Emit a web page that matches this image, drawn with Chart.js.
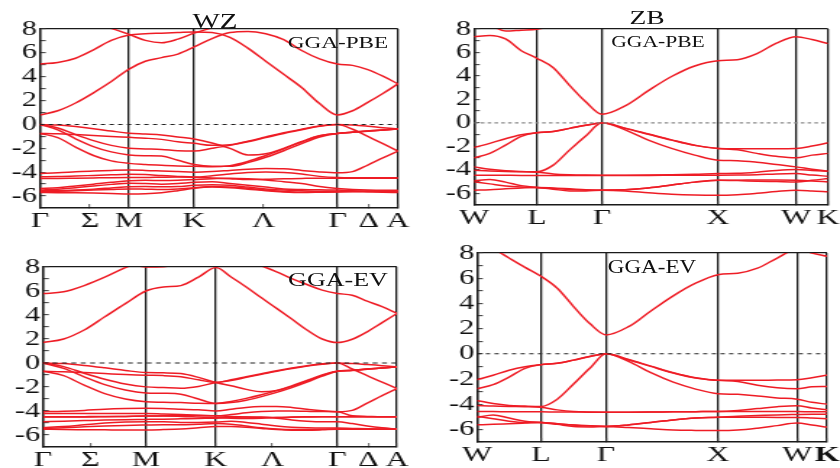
<!DOCTYPE html>
<html lang="en">
<head>
<meta charset="UTF-8">
<title>Band structures WZ / ZB</title>
<script src="https://cdn.jsdelivr.net/npm/chart.js"></script>
<style>
  body { margin: 0; background: #fff; width: 840px; height: 468px; position: relative; overflow: hidden; font-family: "Liberation Serif", serif; }
  canvas { position: absolute; transform-origin: 0 0; transform: scaleX(1.4483); }
  .lbl { position: absolute; white-space: nowrap; color: #111; line-height: 1; }
</style>
</head>
<body>

<canvas id="wzPbe" width="290" height="234" style="left:0;top:0"></canvas>
<canvas id="zbPbe" width="290" height="234" style="left:420px;top:0"></canvas>
<canvas id="wzEv" width="290" height="234" style="left:0;top:234px"></canvas>
<canvas id="zbEv" width="290" height="234" style="left:420px;top:234px"></canvas>

<div class="lbl" style="left:215px;top:21px;font-size:20px;transform:translate(-50%,-50%) scaleX(1.45)">WZ</div>
<div class="lbl" style="left:647px;top:17px;font-size:19px;transform:translate(-50%,-50%) scaleX(1.45)">ZB</div>
<div class="lbl" style="left:338px;top:43px;font-size:16px;transform:translate(-50%,-50%) scaleX(1.45)">GGA-PBE</div>
<div class="lbl" style="left:658px;top:42px;font-size:16px;transform:translate(-50%,-50%) scaleX(1.35)">GGA-PBE</div>
<div class="lbl" style="left:338px;top:279px;font-size:19px;transform:translate(-50%,-50%) scaleX(1.37)">GGA-EV</div>
<div class="lbl" style="left:652px;top:267px;font-size:18px;transform:translate(-50%,-50%) scaleX(1.28)">GGA-EV</div>

<script>
// sample positions along the k-path (segment index + fraction)
const wzPath = [0, 0.2, 0.4, 0.6, 0.8, 1, 1.25, 1.5, 1.75, 2, 2.125, 2.25, 2.375, 2.5, 2.625, 2.75, 2.875, 3, 3.25, 3.5, 3.75, 4];
const zbPath = [0, 0.25, 0.5, 0.75, 1, 1.25, 1.5, 1.75, 2, 2.2, 2.4, 2.6, 2.8, 3, 3.25, 3.5, 3.75, 4, 4.5, 5];

// high symmetry points (k) and axis labels
const wzPbeSym = [0, 1, 1.73, 3.34, 4.02];
const wzEvSym = [0, 1, 1.68, 2.86, 3.44];
const zbPbeSym = [0, 0.543, 1.103, 2.103, 2.776, 3.052];
const zbEvSym = [0, 0.571, 1.152, 2.152, 2.857, 3.125];
const wzPbeTicks = [0, 0.56, 1, 1.73, 2.51, 3.34, 3.69, 4.02];
const wzEvTicks = [0, 0.46, 1, 1.68, 2.23, 2.86, 3.16, 3.44];
const wzLabels = ['Γ', 'Σ', 'M', 'K', 'Λ', 'Γ', 'Δ', 'A'];
const zbLabels = ['W', 'L', 'Γ', 'X', 'W', 'K'];
const energyTicks = [-7, -6, -5, -4, -3, -2, -1, 0, 1, 2, 3, 4, 5, 6, 7, 8];

// WZ GGA-PBE (eV)
const wzPbeCond = [
  [0.8, 1.15, 1.8, 2.65, 3.6, 4.64, 5.3, 5.6, 5.9, 6.5, 7.2, 7.7, 7.8, 7.6, 7.1, 6.2, 5.5, 5.06, 4.95, 4.6, 4.05, 3.4],
  [5.06, 5.2, 5.55, 6.25, 7.05, 7.5, 7.6, 7.65, 7.7, 7.75, 7.7, 7.3, 6.4, 5.3, 4.2, 3.1, 1.75, 0.8, 1.15, 1.85, 2.6, 3.4],
  [null, null, null, 8.45, 8.05, 7.55, 7.05, 6.85, 7.15, 7.65, 8.1, 8.6, null, null, null, null, null, null, null, null, null, null]
];
const wzPbeVal = [
  [0, -0.05, -0.18, -0.35, -0.55, -0.73, -0.8, -0.88, -1.05, -1.22, -1.55, -2.0, -2.55, -2.45, -2.0, -1.45, -0.95, -0.75, -0.65, -0.55, -0.47, -0.38],
  [-0.75, -0.78, -0.85, -0.93, -1.0, -1.08, -1.15, -1.25, -1.45, -1.58, -1.75, -1.7, -1.4, -1.05, -0.7, -0.4, -0.12, 0, -0.05, -0.15, -0.27, -0.38],
  [0, -0.3, -0.85, -1.35, -1.75, -2.0, -2.05, -2.1, -2.2, -2.23, -2.0, -1.75, -1.45, -1.1, -0.75, -0.45, -0.15, 0, -0.4, -1.0, -1.6, -2.23],
  [0, -0.45, -1.2, -1.85, -2.3, -2.56, -2.62, -2.65, -3.0, -3.35, -3.5, -3.5, -3.2, -2.75, -2.2, -1.6, -1.05, -0.75, -0.66, -0.56, -0.47, -0.38],
  [-0.75, -1.1, -1.9, -2.6, -3.05, -3.26, -3.35, -3.42, -3.48, -3.5, -3.55, -3.45, -3.1, -2.6, -2.05, -1.45, -0.95, -0.75, -0.64, -0.54, -0.46, -0.38]
];
const wzPbeLow = [
  [-4.1, -4.05, -3.97, -3.9, -3.85, -3.82, -3.85, -3.9, -3.95, -4.0, -3.95, -3.85, -3.75, -3.7, -3.72, -3.85, -3.98, -4.05, -3.95, -3.4, -2.8, -2.23],
  [-4.38, -4.36, -4.32, -4.27, -4.22, -4.18, -4.2, -4.28, -4.35, -4.4, -4.3, -4.15, -4.02, -3.98, -4.02, -4.15, -4.35, -4.45, -4.47, -4.47, -4.47, -4.47],
  [-4.52, -4.52, -4.5, -4.48, -4.46, -4.45, -4.45, -4.42, -4.4, -4.42, -4.48, -4.55, -4.62, -4.6, -4.55, -4.52, -4.5, -4.5, -4.5, -4.5, -4.5, -4.5],
  [-5.36, -5.3, -5.15, -5.0, -4.85, -4.72, -4.68, -4.7, -4.68, -4.62, -4.55, -4.5, -4.55, -4.65, -4.8, -4.95, -5.2, -5.36, -5.45, -5.5, -5.52, -5.52],
  [-5.5, -5.42, -5.3, -5.15, -5.02, -4.92, -4.95, -5.0, -4.95, -4.85, -4.8, -4.95, -5.1, -5.25, -5.4, -5.45, -5.48, -5.5, -5.55, -5.6, -5.62, -5.65],
  [-5.56, -5.55, -5.5, -5.42, -5.32, -5.22, -5.2, -5.22, -5.2, -5.1, -5.05, -5.1, -5.25, -5.4, -5.5, -5.55, -5.6, -5.6, -5.62, -5.65, -5.68, -5.7],
  [-5.7, -5.72, -5.73, -5.75, -5.78, -5.82, -5.8, -5.72, -5.55, -5.35, -5.25, -5.3, -5.42, -5.55, -5.65, -5.7, -5.68, -5.65, -5.62, -5.6, -5.58, -5.55],
  [-5.64, -5.6, -5.55, -5.5, -5.45, -5.4, -5.42, -5.45, -5.4, -5.3, -5.2, -5.25, -5.35, -5.5, -5.62, -5.68, -5.66, -5.64, -5.62, -5.6, -5.58, -5.55]
];

// WZ GGA-EV (eV)
const wzEvCond = [
  [1.7, 2.0, 2.75, 3.85, 4.95, 6.0, 6.33, 6.45, 7.15, 7.95, 7.17, 6.34, 5.43, 4.55, 3.66, 2.75, 2.0, 1.7, 1.98, 2.6, 3.36, 4.13],
  [5.79, 5.93, 6.45, 7.15, 7.95, 8.6, null, null, null, null, null, 8.6, 8.1, 7.6, 7.03, 6.54, 6.07, 5.79, 5.65, 5.15, 4.69, 4.13],
  [null, null, null, null, 8.4, 8.0, 8.02, 8.3, null, null, null, null, null, null, null, null, null, null, null, null, null, null]
];
const wzEvVal = [
  [0, -0.05, -0.2, -0.4, -0.62, -0.8, -0.82, -0.88, -1.2, -1.63, -1.9, -2.2, -2.4, -2.3, -1.95, -1.5, -1.05, -0.69, -0.6, -0.5, -0.42, -0.33],
  [-0.69, -0.72, -0.8, -0.88, -0.96, -1.02, -1.05, -1.15, -1.4, -1.63, -1.4, -1.15, -0.9, -0.65, -0.42, -0.22, -0.07, 0, -0.05, -0.13, -0.22, -0.33],
  [0, -0.3, -0.85, -1.35, -1.75, -1.99, -2.05, -2.1, -1.95, -1.63, -1.45, -1.2, -0.95, -0.7, -0.47, -0.26, -0.1, 0, -0.5, -1.05, -1.6, -2.13],
  [0, -0.45, -1.15, -1.8, -2.25, -2.49, -2.52, -2.6, -3.0, -3.37, -3.2, -2.95, -2.65, -2.3, -1.9, -1.45, -1.0, -0.69, -0.62, -0.52, -0.42, -0.33],
  [-0.69, -1.05, -1.85, -2.55, -3.0, -3.23, -3.27, -3.3, -3.35, -3.37, -3.3, -3.1, -2.8, -2.45, -2.05, -1.6, -1.1, -0.69, -0.6, -0.5, -0.42, -0.33]
];
const wzEvLow = [
  [-4.06, -4.02, -3.95, -3.85, -3.8, -3.78, -3.8, -3.85, -3.9, -4.0, -3.85, -3.7, -3.63, -3.62, -3.7, -3.85, -3.98, -4.06, -3.95, -3.35, -2.72, -2.13],
  [-4.2, -4.2, -4.2, -4.2, -4.2, -4.2, -4.25, -4.3, -4.35, -4.4, -4.3, -4.15, -4.05, -4.0, -4.0, -4.03, -4.05, -4.06, -4.4, -4.45, -4.48, -4.48],
  [-4.48, -4.48, -4.47, -4.46, -4.45, -4.42, -4.42, -4.45, -4.5, -4.55, -4.6, -4.62, -4.6, -4.55, -4.5, -4.48, -4.48, -4.48, -4.48, -4.48, -4.48, -4.48],
  [-4.89, -4.85, -4.8, -4.75, -4.72, -4.7, -4.68, -4.65, -4.62, -4.6, -4.55, -4.5, -4.5, -4.6, -4.75, -4.85, -4.9, -4.89, -5.05, -5.25, -5.4, -5.5],
  [-5.39, -5.3, -5.15, -5.0, -4.92, -4.89, -4.9, -4.95, -4.95, -4.92, -4.85, -4.95, -5.1, -5.25, -5.35, -5.4, -5.42, -5.42, -5.45, -5.48, -5.5, -5.52],
  [-5.45, -5.4, -5.32, -5.25, -5.2, -5.17, -5.15, -5.15, -5.1, -5.05, -5.1, -5.25, -5.4, -5.5, -5.55, -5.55, -5.52, -5.5, -5.5, -5.52, -5.52, -5.52],
  [-5.52, -5.55, -5.56, -5.57, -5.58, -5.58, -5.55, -5.5, -5.4, -5.3, -5.3, -5.35, -5.45, -5.55, -5.6, -5.6, -5.57, -5.52, -5.52, -5.52, -5.52, -5.52],
  [-4.5, -4.5, -4.5, -4.48, -4.45, -4.42, -4.4, -4.38, -4.38, -4.4, -4.45, -4.5, -4.55, -4.55, -4.52, -4.5, -4.48, -4.48, -4.48, -4.48, -4.48, -4.48]
];

// ZB GGA-PBE (eV)
const zbPbeCond = [
  [7.35, 7.45, 7.15, 6.15, 5.5, 4.7, 3.2, 1.8, 0.73, 1.45, 2.75, 3.95, 4.85, 5.3, 5.38, 5.9, 6.8, 7.35, 7.1, 6.75],
  [null, 8.4, 7.82, 7.9, 7.98, 8.25, null, null, null, null, null, null, null, null, null, null, null, null, null, null]
];
const zbPbeVal = [
  [-2.1, -1.75, -1.35, -1.02, -0.84, -0.73, -0.47, -0.21, 0, -0.45, -0.95, -1.45, -1.9, -2.18, -2.2, -2.2, -2.2, -2.18, -1.98, -1.7],
  [-2.98, -2.6, -1.9, -1.15, -0.84, -0.73, -0.47, -0.21, 0, -0.47, -0.97, -1.47, -1.92, -2.18, -2.3, -2.6, -2.85, -2.98, -2.75, -2.6],
  [-3.75, -3.95, -4.08, -4.14, -4.17, -3.6, -2.32, -1.12, 0, -0.6, -1.47, -2.18, -2.75, -3.18, -3.22, -3.35, -3.55, -3.75, -3.95, -4.12]
];
const zbPbeLow = [
  [-4.03, -4.1, -4.15, -4.17, -4.2, -4.35, -4.42, -4.45, -4.46, -4.46, -4.45, -4.42, -4.38, -4.32, -4.3, -4.2, -4.05, -3.98, -4.05, -4.12],
  [-4.46, -4.46, -4.47, -4.48, -4.48, -4.48, -4.48, -4.48, -4.48, -4.48, -4.48, -4.47, -4.46, -4.46, -4.45, -4.42, -4.35, -4.32, -4.45, -4.55],
  [-4.94, -4.83, -5.05, -5.35, -5.5, -5.65, -5.8, -5.8, -5.74, -5.8, -5.95, -6.08, -6.15, -6.17, -6.12, -6.0, -5.85, -5.74, -5.8, -5.88],
  [-5.03, -5.2, -5.38, -5.47, -5.5, -5.6, -5.68, -5.72, -5.74, -5.7, -5.55, -5.3, -5.05, -4.89, -4.92, -4.97, -5.0, -5.03, -4.9, -4.74],
  [-5.74, -5.7, -5.62, -5.55, -5.5, -5.55, -5.62, -5.7, -5.74, -5.7, -5.55, -5.3, -5.05, -4.89, -4.88, -4.86, -4.86, -4.89, -4.95, -5.03]
];

// ZB GGA-EV (eV)
const zbEvCond = [
  [8.9, 8.35, 7.6, 6.86, 6.15, 5.2, 3.75, 2.4, 1.5, 2.15, 3.4, 4.6, 5.6, 6.28, 6.4, 6.8, 7.6, 8.3, 8.0, 7.73]
];
const zbEvVal = [
  [-2.06, -1.7, -1.3, -1.02, -0.86, -0.75, -0.5, -0.22, 0, -0.45, -0.98, -1.5, -1.9, -2.1, -2.1, -2.1, -2.08, -2.06, -1.9, -1.68],
  [-2.77, -2.45, -1.85, -1.15, -0.86, -0.75, -0.5, -0.22, 0, -0.47, -1.0, -1.52, -1.92, -2.1, -2.2, -2.5, -2.7, -2.77, -2.62, -2.59],
  [-3.7, -3.95, -4.1, -4.15, -4.18, -3.6, -2.4, -1.15, 0, -0.6, -1.5, -2.25, -2.8, -3.17, -3.22, -3.35, -3.5, -3.6, -3.85, -4.0]
];
const zbEvLow = [
  [-4.1, -4.15, -4.18, -4.2, -4.25, -4.45, -4.58, -4.62, -4.63, -4.63, -4.62, -4.6, -4.59, -4.58, -4.5, -4.35, -4.2, -4.12, -4.3, -4.44],
  [-4.58, -4.58, -4.6, -4.6, -4.6, -4.62, -4.62, -4.63, -4.63, -4.63, -4.62, -4.6, -4.59, -4.58, -4.58, -4.58, -4.58, -4.58, -4.6, -4.6],
  [-5.05, -4.85, -5.1, -5.35, -5.45, -5.6, -5.77, -5.8, -5.77, -5.85, -5.95, -6.05, -6.08, -6.09, -6.05, -5.9, -5.7, -5.5, -5.65, -5.82],
  [-4.95, -5.15, -5.35, -5.45, -5.45, -5.55, -5.65, -5.72, -5.77, -5.65, -5.45, -5.25, -5.1, -5.03, -5.03, -5.04, -5.05, -5.05, -5.1, -5.16],
  [-5.64, -5.6, -5.55, -5.5, -5.45, -5.55, -5.65, -5.72, -5.77, -5.65, -5.45, -5.25, -5.1, -5.03, -4.95, -4.9, -4.85, -4.82, -4.8, -4.79]
];

const RED = '#ee1c25';
const FONT = 'Liberation Serif';

// segment index + fraction -> k position on this panel's axis
function pathToK(t, sym) {
  const seg = Math.min(Math.floor(t), sym.length - 2);
  return sym[seg] + (t - seg) * (sym[seg + 1] - sym[seg]);
}

function makePanel(id, p) {
  const xs = p.path.map(t => pathToK(t, p.sym));
  const kMax = p.sym[p.sym.length - 1];
  const datasets = [{
    data: [{ x: 0, y: 0 }, { x: kMax, y: 0 }],
    borderColor: p.zeroColor, borderWidth: 1.1, borderDash: p.dash, pointRadius: 0
  }];
  p.bands.forEach(b => {
    datasets.push({
      data: b.map((e, i) => ({ x: xs[i], y: e })),
      borderColor: RED, borderWidth: 1.5, pointRadius: 0,
      cubicInterpolationMode: 'monotone', fill: false
    });
  });
  const isSym = v => p.sym.some(s => Math.abs(s - v) < 1e-6);

  new Chart(document.getElementById(id), {
    type: 'line',
    data: { datasets: datasets },
    options: {
      responsive: false,
      animation: false,
      devicePixelRatio: 1,
      layout: { autoPadding: false, padding: { left: 0, right: p.padR, top: p.padT, bottom: 0 } },
      plugins: { legend: { display: false }, tooltip: { enabled: false } },
      scales: {
        x: {
          type: 'linear', min: 0, max: kMax,
          afterBuildTicks: s => { s.ticks = p.ticks.map(v => ({ value: v })); },
          afterFit: s => { s.height = p.axisH; s.paddingLeft = 0; s.paddingRight = 0; },
          ticks: {
            autoSkip: false, maxRotation: 0, padding: 4, color: '#111',
            font: c => ({ family: FONT, size: 22, weight: (p.boldLast && c.index === p.ticks.length - 1) ? 'bold' : 'normal' }),
            callback: (v, i) => p.labels[i]
          },
          grid: {
            color: c => (c.tick && isSym(c.tick.value)) ? '#1a1a1a' : 'rgba(0,0,0,0)',
            lineWidth: 1.3, tickColor: '#333', tickLength: -4, tickWidth: 0.8
          },
          border: { color: '#1a1a1a', width: 1.4 }
        },
        y: {
          min: -7, max: 8,
          afterBuildTicks: s => { s.ticks = energyTicks.map(v => ({ value: v })); },
          afterFit: s => { s.width = p.axisW; s.paddingTop = 0; s.paddingBottom = 0; },
          ticks: {
            autoSkip: false, padding: 6, color: '#111', font: { family: FONT, size: 21 },
            callback: v => (v % 2 === 0 ? String(v) : '')
          },
          grid: {
            color: c => (c.tick && c.tick.value === 8) ? '#1a1a1a' : 'rgba(0,0,0,0)',
            lineWidth: 1.3, tickColor: '#333', tickLength: -4, tickWidth: 1
          },
          border: { color: '#1a1a1a', width: 1.4 }
        }
      }
    }
  });
}

makePanel('wzPbe', {
  path: wzPath, sym: wzPbeSym, ticks: wzPbeTicks, labels: wzLabels,
  bands: [...wzPbeCond, ...wzPbeVal, ...wzPbeLow],
  zeroColor: '#222', dash: [3, 3],
  axisW: 27.6, padR: 15.2, padT: 29, axisH: 26
});
makePanel('zbPbe', {
  path: zbPath, sym: zbPbeSym, ticks: zbPbeSym, labels: zbLabels,
  bands: [...zbPbeCond, ...zbPbeVal, ...zbPbeLow],
  zeroColor: '#888', dash: [2.5, 2.2],
  axisW: 37.3, padR: 8.3, padT: 29, axisH: 29
});
makePanel('wzEv', {
  path: wzPath, sym: wzEvSym, ticks: wzEvTicks, labels: wzLabels,
  bands: [...wzEvCond, ...wzEvVal, ...wzEvLow],
  zeroColor: '#222', dash: [3.5, 3],
  axisW: 29.7, padR: 15.9, padT: 33, axisH: 21
});
makePanel('zbEv', {
  path: zbPath, sym: zbEvSym, ticks: zbEvSym, labels: zbLabels,
  bands: [...zbEvCond, ...zbEvVal, ...zbEvLow],
  zeroColor: '#222', dash: [3, 3], boldLast: true,
  axisW: 39.4, padR: 9.0, padT: 19, axisH: 26
});
</script>
</body>
</html>
